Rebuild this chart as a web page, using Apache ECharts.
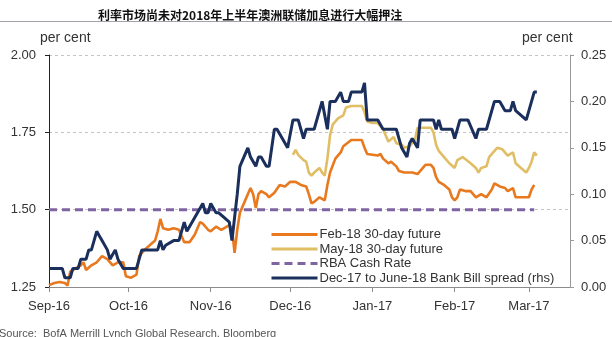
<!DOCTYPE html>
<html>
<head>
<meta charset="utf-8">
<script src="https://cdn.jsdelivr.net/npm/echarts@6/dist/echarts.min.js"></script>
<style>
  html, body { margin: 0; padding: 0; background: #fff; }
  #chart { width: 612px; height: 337px; }
</style>
</head>
<body>
<div id="chart"></div>
<script>
// Feb-18 30-day interbank cash rate future (lhs, per cent)
const feb18Dates = [
  '2016-09-01','2016-09-03','2016-09-05','2016-09-07','2016-09-08','2016-09-09','2016-09-11','2016-09-13',
  '2016-09-14','2016-09-15','2016-09-17','2016-09-19','2016-09-21','2016-09-23','2016-09-25','2016-09-27',
  '2016-09-29','2016-09-30','2016-10-02','2016-10-04','2016-10-05','2016-10-07','2016-10-09','2016-10-11',
  '2016-10-12','2016-10-13','2016-10-14','2016-10-16','2016-10-18','2016-10-20','2016-10-22','2016-10-24',
  '2016-10-26','2016-10-28','2016-10-29','2016-10-31','2016-11-01','2016-11-03','2016-11-05','2016-11-08',
  '2016-11-09','2016-11-10','2016-11-11','2016-11-12','2016-11-14','2016-11-16','2016-11-17','2016-11-18',
  '2016-11-19','2016-11-20','2016-11-22','2016-11-23','2016-11-25','2016-11-27','2016-11-29','2016-12-01',
  '2016-12-03','2016-12-05','2016-12-07','2016-12-08','2016-12-09','2016-12-10','2016-12-12','2016-12-14',
  '2016-12-15','2016-12-16','2016-12-18','2016-12-20','2016-12-21','2016-12-24','2016-12-28','2016-12-29',
  '2016-12-30','2017-01-03','2017-01-04','2017-01-05','2017-01-07','2017-01-08','2017-01-10','2017-01-11',
  '2017-01-13','2017-01-14','2017-01-16','2017-01-18','2017-01-20','2017-01-21','2017-01-23','2017-01-24',
  '2017-01-25','2017-01-26','2017-01-28','2017-01-30','2017-01-31','2017-02-01','2017-02-02','2017-02-03',
  '2017-02-05','2017-02-07','2017-02-09','2017-02-11','2017-02-13','2017-02-15','2017-02-16','2017-02-18',
  '2017-02-20','2017-02-21','2017-02-23','2017-02-24','2017-02-26','2017-03-01','2017-03-02','2017-03-03'
];
const feb18Values = [
  1.256,1.263,1.266,1.263,1.255,1.300,1.310,1.320,
  1.330,1.305,1.320,1.330,1.350,1.340,1.320,1.330,
  1.330,1.285,1.280,1.290,1.350,1.370,1.385,1.400,
  1.430,1.470,1.440,1.435,1.440,1.435,1.395,1.395,
  1.420,1.460,1.455,1.435,1.430,1.445,1.435,1.450,
  1.440,1.360,1.435,1.490,1.530,1.570,1.550,1.505,
  1.550,1.560,1.550,1.540,1.555,1.580,1.575,1.590,
  1.590,1.580,1.575,1.550,1.520,1.525,1.540,1.530,
  1.580,1.620,1.665,1.685,1.705,1.725,1.725,1.700,
  1.680,1.675,1.680,1.665,1.650,1.655,1.640,1.625,
  1.620,1.620,1.620,1.615,1.635,1.645,1.645,1.635,
  1.605,1.590,1.580,1.565,1.540,1.530,1.540,1.565,
  1.560,1.560,1.540,1.550,1.540,1.565,1.585,1.575,
  1.570,1.560,1.570,1.540,1.540,1.540,1.565,1.580
];

// May-18 30-day interbank cash rate future (lhs, per cent)
const may18Dates = [
  '2016-12-02','2016-12-03','2016-12-04','2016-12-06','2016-12-07','2016-12-08','2016-12-09','2016-12-10',
  '2016-12-12','2016-12-13','2016-12-14','2016-12-15','2016-12-16','2016-12-17','2016-12-19','2016-12-21',
  '2016-12-22','2016-12-24','2016-12-28','2016-12-29','2016-12-30','2017-01-01','2017-01-03','2017-01-04',
  '2017-01-05','2017-01-07','2017-01-09','2017-01-10','2017-01-12','2017-01-13','2017-01-15','2017-01-17',
  '2017-01-18','2017-01-21','2017-01-23','2017-01-24','2017-01-25','2017-01-26','2017-01-28','2017-01-30',
  '2017-02-01','2017-02-02','2017-02-04','2017-02-07','2017-02-09','2017-02-10','2017-02-11','2017-02-13',
  '2017-02-14','2017-02-17','2017-02-19','2017-02-21','2017-02-23','2017-02-24','2017-02-26','2017-02-28',
  '2017-03-01','2017-03-02','2017-03-03','2017-03-04'
];
const may18Values = [
  1.677,1.693,1.677,1.660,1.655,1.620,1.610,1.620,
  1.635,1.620,1.610,1.665,1.740,1.775,1.795,1.805,
  1.830,1.835,1.835,1.815,1.785,1.780,1.780,1.770,
  1.760,1.720,1.735,1.715,1.710,1.700,1.705,1.725,
  1.765,1.765,1.765,1.750,1.710,1.690,1.670,1.650,
  1.635,1.660,1.670,1.650,1.635,1.620,1.635,1.640,
  1.670,1.700,1.695,1.675,1.685,1.650,1.635,1.620,
  1.635,1.655,1.685,1.675
];

// RBA cash rate (lhs, per cent)
const cashRateDates = ['2016-09-01', '2017-03-03'];
const cashRateValues = [1.50, 1.50];

// Dec-17 to June-18 bank bill spread (rhs, per cent)
const spreadDates = [
  '2016-09-01','2016-09-06','2016-09-07','2016-09-09','2016-09-10','2016-09-12','2016-09-13','2016-09-15',
  '2016-09-16','2016-09-17','2016-09-18','2016-09-19','2016-09-20','2016-09-21','2016-09-23','2016-09-24',
  '2016-09-25','2016-09-26','2016-09-27','2016-09-29','2016-10-04','2016-10-05','2016-10-06','2016-10-12',
  '2016-10-13','2016-10-14','2016-10-15','2016-10-18','2016-10-20','2016-10-22','2016-10-23','2016-10-25',
  '2016-10-27','2016-10-29','2016-10-30','2016-10-31','2016-11-01','2016-11-03','2016-11-04','2016-11-06',
  '2016-11-08','2016-11-09','2016-11-11','2016-11-12','2016-11-15','2016-11-16','2016-11-18','2016-11-19',
  '2016-11-20','2016-11-22','2016-11-23','2016-11-25','2016-11-26','2016-11-28','2016-11-30','2016-12-02',
  '2016-12-04','2016-12-05','2016-12-06','2016-12-07','2016-12-10','2016-12-13','2016-12-15','2016-12-16',
  '2016-12-18','2016-12-20','2016-12-21','2016-12-23','2016-12-24','2016-12-28','2016-12-29','2016-12-30',
  '2017-01-03','2017-01-05','2017-01-10','2017-01-12','2017-01-14','2017-01-15','2017-01-16','2017-01-18',
  '2017-01-19','2017-01-24','2017-01-25','2017-01-26','2017-01-27','2017-01-31','2017-02-01','2017-02-02',
  '2017-02-03','2017-02-06','2017-02-09','2017-02-10','2017-02-13','2017-02-16','2017-02-18','2017-02-20',
  '2017-02-22','2017-02-23','2017-02-24','2017-02-28','2017-03-03','2017-03-04'
];
const spreadValues = [
  0.020,0.020,0.010,0.010,0.020,0.020,0.030,0.030,
  0.040,0.040,0.050,0.060,0.055,0.050,0.040,0.030,
  0.035,0.040,0.030,0.020,0.020,0.030,0.040,0.040,
  0.050,0.040,0.045,0.050,0.050,0.070,0.060,0.070,
  0.080,0.090,0.080,0.080,0.090,0.080,0.080,0.075,
  0.070,0.050,0.100,0.130,0.150,0.140,0.130,0.140,
  0.140,0.130,0.130,0.170,0.170,0.160,0.150,0.180,
  0.180,0.170,0.160,0.170,0.170,0.200,0.170,0.200,
  0.200,0.210,0.200,0.200,0.210,0.210,0.220,0.180,
  0.180,0.170,0.170,0.150,0.140,0.155,0.160,0.150,
  0.180,0.180,0.170,0.180,0.170,0.170,0.160,0.170,
  0.180,0.180,0.160,0.170,0.170,0.200,0.200,0.190,
  0.190,0.200,0.190,0.180,0.210,0.210
];

// Month starts used for the x-axis ticks and labels
const monthTicks = ['2016-09-01','2016-10-01','2016-11-01','2016-12-01','2017-01-01','2017-02-01','2017-03-01'];
const monthNames = ['Jan','Feb','Mar','Apr','May','Jun','Jul','Aug','Sep','Oct','Nov','Dec'];

const seriesNames = [
  'Feb-18 30-day future',
  'May-18 30-day future',
  'RBA Cash Rate',
  'Dec-17 to June-18 Bank Bill spread (rhs)'
];

const DAY = 24 * 3600 * 1000;
// 'YYYY-MM-DD' -> timestamp (UTC midnight)
function ts(s) {
  const p = s.split('-').map(Number);
  return Date.UTC(p[0], p[1] - 1, p[2]);
}
function zip(dates, values) {
  return dates.map((d, i) => [ts(d), values[i]]);
}

const monthTs = monthTicks.map(ts);
const axisFont = 'Liberation Sans, Arial, sans-serif';

const chart = echarts.init(document.getElementById('chart'), null, { renderer: 'canvas' });

chart.setOption({
  animation: false,
  backgroundColor: '#ffffff',
  title: {
    text: '利率市场尚未对2018年上半年澳洲联储加息进行大幅押注',
    left: 93,
    top: 4,
    textStyle: {
      fontFamily: 'Noto Sans CJK SC',
      fontWeight: 'bold',
      fontSize: 12,
      color: '#111'
    }
  },
  graphic: [
    {
      type: 'line',
      shape: { x1: 0, y1: 21.5, x2: 612, y2: 21.5 },
      style: { stroke: '#a0a4aa', lineWidth: 1 },
      silent: true
    },
    {
      type: 'text',
      left: 40, top: 31,
      style: { text: 'per cent', fontSize: 14, fontFamily: axisFont, fill: '#333' }
    },
    {
      type: 'text',
      left: 522, top: 31,
      style: { text: 'per cent', fontSize: 14, fontFamily: axisFont, fill: '#333' }
    },
    {
      type: 'text',
      left: -1, top: 328,
      style: { text: 'Source:  BofA Merrill Lynch Global Research, Bloomberg', fontSize: 11, fontFamily: axisFont, fill: '#555' }
    }
  ],
  grid: { left: 49, right: 42, top: 55, bottom: 50, containLabel: false },
  legend: {
    data: seriesNames,
    orient: 'vertical',
    left: 265,
    top: 223,
    itemWidth: 46,
    itemHeight: 14,
    itemGap: 1.5,
    itemStyle: { opacity: 0 },
    lineStyle: { width: 3 },
    textStyle: { fontSize: 13, color: '#333', fontFamily: axisFont, padding: [0, 0, 0, -3] }
  },
  xAxis: {
    // timestamps on a linear axis, so the month ticks can be placed exactly
    type: 'value',
    min: ts('2016-09-01'),
    max: ts('2017-03-16') + DAY / 2,
    axisLine: { show: true, lineStyle: { color: '#8c8c8c', width: 1 } },
    axisTick: { show: true, customValues: monthTs, length: 5, lineStyle: { color: '#8c8c8c' } },
    axisLabel: {
      customValues: monthTs,
      fontSize: 13,
      color: '#333',
      fontFamily: axisFont,
      margin: 13,
      formatter: function (v) {
        const d = new Date(v);
        return monthNames[d.getUTCMonth()] + '-' + String(d.getUTCFullYear()).slice(2);
      }
    },
    splitLine: { show: false }
  },
  yAxis: [
    {
      type: 'value',
      position: 'left',
      min: 1.25,
      max: 2.0,
      interval: 0.25,
      axisLine: { show: true, lineStyle: { color: '#222', width: 1 } },
      axisTick: { show: true, length: 4, lineStyle: { color: '#222' } },
      axisLabel: {
        fontSize: 13, color: '#333', fontFamily: axisFont, margin: 13,
        formatter: v => v.toFixed(2)
      },
      splitLine: { show: true, lineStyle: { color: '#c4c4c4', type: [3, 3], width: 1 } }
    },
    {
      type: 'value',
      position: 'right',
      min: 0,
      max: 0.25,
      interval: 0.05,
      axisLine: { show: true, lineStyle: { color: '#9a9a9a', width: 1 } },
      axisTick: { show: true, length: 4, lineStyle: { color: '#9a9a9a' } },
      axisLabel: {
        fontSize: 13, color: '#333', fontFamily: axisFont, margin: 11,
        formatter: v => v.toFixed(2)
      },
      splitLine: { show: false }
    }
  ],
  series: [
    {
      name: seriesNames[2],
      type: 'line',
      yAxisIndex: 0,
      symbol: 'none',
      data: zip(cashRateDates, cashRateValues),
      lineStyle: { color: '#8064a2', width: 3, type: [8, 5] },
      itemStyle: { color: '#8064a2' },
      z: 2
    },
    {
      name: seriesNames[0],
      type: 'line',
      yAxisIndex: 0,
      symbol: 'none',
      data: zip(feb18Dates, feb18Values),
      lineStyle: { color: '#e8791e', width: 2.6 },
      itemStyle: { color: '#e8791e' },
      z: 3
    },
    {
      name: seriesNames[1],
      type: 'line',
      yAxisIndex: 0,
      symbol: 'none',
      data: zip(may18Dates, may18Values),
      lineStyle: { color: '#e0be66', width: 2.6 },
      itemStyle: { color: '#e0be66' },
      z: 3
    },
    {
      name: seriesNames[3],
      type: 'line',
      yAxisIndex: 1,
      symbol: 'none',
      data: zip(spreadDates, spreadValues),
      lineStyle: { color: '#1b2f5c', width: 3 },
      itemStyle: { color: '#1b2f5c' },
      z: 4
    }
  ]
});
</script>
</body>
</html>
